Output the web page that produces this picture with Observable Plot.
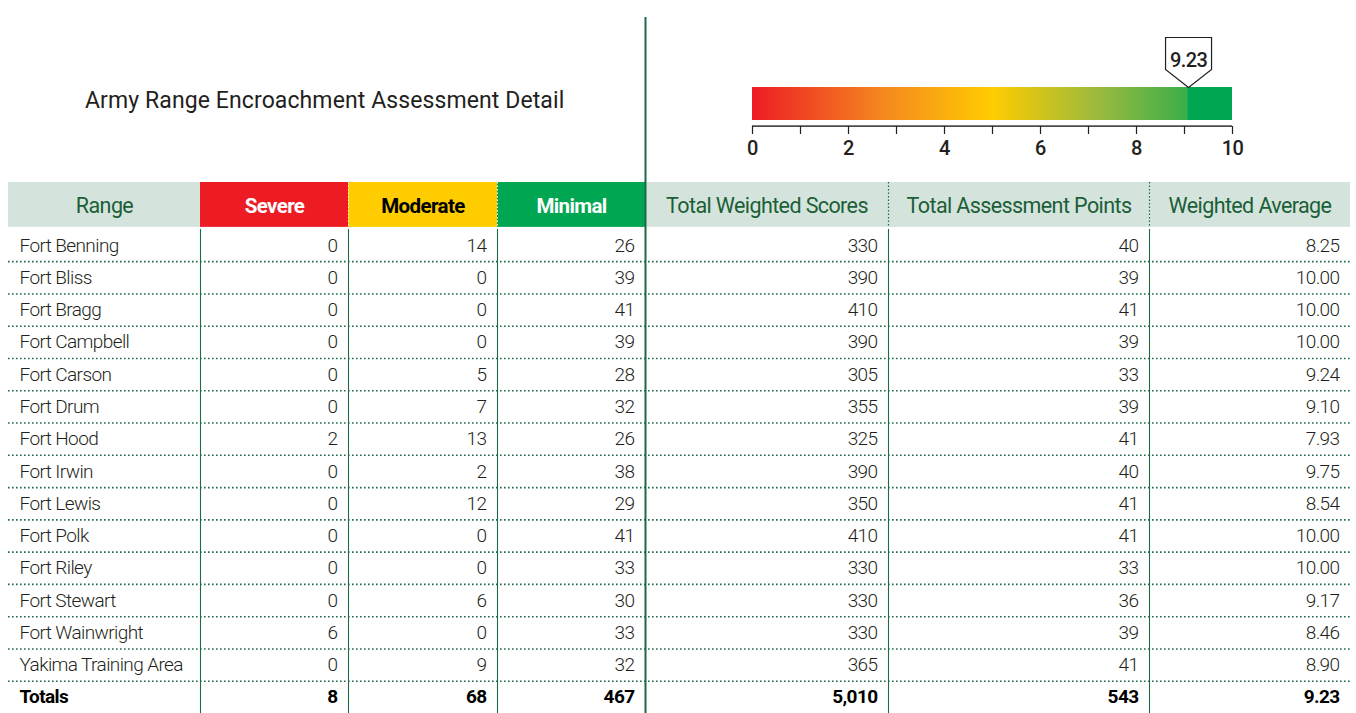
<!DOCTYPE html>
<html><head><meta charset="utf-8">
<script src="https://cdn.jsdelivr.net/npm/d3@7"></script>
<script src="https://cdn.jsdelivr.net/npm/@observablehq/plot@0.6"></script>
<style>
body{margin:0;background:#fff;}
#wrap{position:relative;width:1356px;height:713px;overflow:hidden;background:#fff;}
#wrap > svg{position:absolute;top:0;}
#wrap svg text{letter-spacing:-0.6px;}
#title{position:absolute;left:85px;top:87px;font:23px Roboto,"Liberation Sans",Arial,sans-serif;letter-spacing:0.1px;color:#231f20;white-space:nowrap;}
</style></head><body>
<div id="wrap"></div>
<script>
// ---------- data ----------
const ranges = ["Fort Benning","Fort Bliss","Fort Bragg","Fort Campbell","Fort Carson","Fort Drum","Fort Hood","Fort Irwin","Fort Lewis","Fort Polk","Fort Riley","Fort Stewart","Fort Wainwright","Yakima Training Area"];
const severe = [0,0,0,0,0,0,2,0,0,0,0,0,6,0];
const moderate = [14,0,0,0,5,7,13,2,12,0,0,6,0,9];
const minimal = [26,39,41,39,28,32,26,38,29,41,33,30,33,32];
const weightedScores = [330,390,410,390,305,355,325,390,350,410,330,330,330,365];
const assessmentPoints = [40,39,41,39,33,39,41,40,41,41,33,36,39,41];
const weightedAverage = [8.25,10.00,10.00,10.00,9.24,9.10,7.93,9.75,8.54,10.00,10.00,9.17,8.46,8.90];
const totals = ["Totals", 8, 68, 467, 5010, 543, 9.23];
const columns = ["Range","Severe","Moderate","Minimal","Total Weighted Scores","Total Assessment Points","Weighted Average"];
const scaleTicks = [0,1,2,3,4,5,6,7,8,9,10];
const overallScore = [9.23];

// ---------- layout / style ----------
const FONT = 'Roboto,"Liberation Sans",sans-serif';
const colWidths = [192,148,149,148,243,261,201];
const edges = Array.from(d3.cumsum([0, ...colWidths]));
const headerFill = ["#d4e4dc","#ed1c24","#ffcc00","#00a651","#d4e4dc","#d4e4dc","#d4e4dc"];
const headerInk = ["#1b5e37","#ffffff","#000000","#ffffff","#1b5e37","#1b5e37","#1b5e37"];
const headerBold = [false,true,true,true,false,false,false];
const LINE = "#1d6b44";
const INK = "#231f20";

const fmtInt = d3.format(",");
const fmtAvg = d3.format(".2f");
const fmtCol = [String, fmtInt, fmtInt, fmtInt, fmtInt, fmtInt, fmtAvg];

const bodyRows = ranges.map((r, i) => [r, severe[i], moderate[i], minimal[i], weightedScores[i], assessmentPoints[i], weightedAverage[i]]);
const cells = [];
bodyRows.forEach((row, i) => row.forEach((v, j) => cells.push({row: i + 1, col: j, text: fmtCol[j](v), bold: false})));
totals.forEach((v, j) => cells.push({row: bodyRows.length + 1, col: j, text: fmtCol[j](v), bold: true}));
const nBands = bodyRows.length + 2;

const header = columns.map((c, j) => ({col: j, text: c, fill: headerFill[j], ink: headerInk[j], bold: headerBold[j]}));

const wrap = document.getElementById("wrap");

// ---------- table ----------
const table = Plot.plot({
  width: 1356, height: 713,
  marginLeft: 8, marginRight: 6, marginTop: 196.6, marginBottom: 0,
  x: {type: "linear", domain: [0, edges[edges.length - 1]], axis: null},
  y: {type: "linear", domain: [0, nBands], reverse: true, axis: null},
  color: {type: "identity"},
  style: {fontFamily: FONT, background: "transparent", overflow: "visible"},
  marks: [
    Plot.rect(header, {x1: d => edges[d.col], x2: d => edges[d.col + 1], y1: 0, y2: 1, insetTop: -14.6, insetBottom: 2, fill: d => d.fill}),
    Plot.ruleX([edges[2], edges[3]], {x: d => d, y1: 0, y2: 1, insetTop: -14.6, insetBottom: 2, stroke: "#ffffff", strokeWidth: 1, strokeDasharray: "1.5 2"}),
    Plot.ruleX([edges[5], edges[6]], {x: d => d, y1: 0, y2: 1, insetTop: -14.6, insetBottom: 2, stroke: LINE, strokeWidth: 1.2, strokeDasharray: "1.5 2"}),
    Plot.text(header.filter(d => !d.bold), {x: d => (edges[d.col] + edges[d.col + 1]) / 2, y: 0.5, dy: -7, text: "text", fill: d => d.ink, fontSize: 21.5}),
    Plot.text(header.filter(d => d.bold), {x: d => (edges[d.col] + edges[d.col + 1]) / 2, y: 0.5, dy: -7, text: "text", fill: d => d.ink, fontSize: 20.5, fontWeight: "bold"}),
    Plot.ruleY(d3.range(2, nBands), {y: d => d, stroke: LINE, strokeWidth: 1.6, strokeDasharray: "1.6 2.4"}),
    Plot.ruleX([edges[1], edges[2], edges[3], edges[5], edges[6]], {x: d => d, y1: 1, y2: nBands, stroke: LINE, strokeWidth: 1.1}),
    Plot.ruleX([edges[4]], {x: d => d, y1: 0, y2: nBands, insetTop: -179.6, stroke: LINE, strokeWidth: 2}),
    Plot.text(cells.filter(d => d.col === 0 && !d.bold), {x: d => edges[0], y: d => d.row + 0.5, dx: 11, text: "text", textAnchor: "start", fill: INK, fontSize: 19, fontWeight: 300}),
    Plot.text(cells.filter(d => d.col > 0 && !d.bold), {x: d => edges[d.col + 1], y: d => d.row + 0.5, dx: -11, text: "text", textAnchor: "end", fill: INK, fontSize: 19, fontWeight: 300}),
    Plot.text(cells.filter(d => d.col === 0 && d.bold), {x: d => edges[0], y: d => d.row + 0.5, dx: 11, text: "text", textAnchor: "start", fill: "#000", fontSize: 19, fontWeight: "bold"}),
    Plot.text(cells.filter(d => d.col > 0 && d.bold), {x: d => edges[d.col + 1], y: d => d.row + 0.5, dx: -11, text: "text", textAnchor: "end", fill: "#000", fontSize: 19, fontWeight: "bold"})
  ]
});
table.style.left = "0px";
wrap.appendChild(table);

// ---------- gradient gauge ----------
const pointer = {
  draw(ctx) {
    ctx.moveTo(0, 0);
    ctx.lineTo(-23, -18);
    ctx.lineTo(-23, -50);
    ctx.lineTo(23, -50);
    ctx.lineTo(23, -18);
    ctx.closePath();
  }
};
const gradientDefs = () => {
  const ns = "http://www.w3.org/2000/svg";
  const defs = document.createElementNS(ns, "defs");
  const lg = document.createElementNS(ns, "linearGradient");
  lg.setAttribute("id", "bar-gradient");
  lg.setAttribute("x1", "0"); lg.setAttribute("x2", "1"); lg.setAttribute("y1", "0"); lg.setAttribute("y2", "0");
  [[0, "#ed1c24"], [0.28, "#f58a1f"], [0.5, "#ffcc00"], [0.72, "#9cba3e"], [0.906, "#3aae4a"], [0.909, "#00a651"], [1, "#00a651"]].forEach(([o, c]) => {
    const s = document.createElementNS(ns, "stop");
    s.setAttribute("offset", o); s.setAttribute("stop-color", c);
    lg.appendChild(s);
  });
  defs.appendChild(lg);
  return defs;
};
const gauge = Plot.plot({
  width: 600, height: 170,
  marginLeft: 52, marginRight: 68, marginTop: 87, marginBottom: 44,
  x: {domain: [0, 10]},
  style: {fontFamily: FONT, background: "transparent", overflow: "visible"},
  marks: [
    gradientDefs,
    Plot.rect([0], {x1: scaleTicks[0], x2: scaleTicks[scaleTicks.length - 1], insetBottom: 6, fill: "url(#bar-gradient)"}),
    Plot.rect([0], {x1: scaleTicks[0], x2: scaleTicks[scaleTicks.length - 1], insetTop: 38.4, insetBottom: -0.8, fill: INK}),
    Plot.axisX({ticks: scaleTicks, tickSize: 8, tickPadding: 6, tickFormat: d => d % 2 === 0 ? d : "", fontSize: 20, fontWeight: 500, stroke: INK, strokeWidth: 1.2, fill: INK, label: null}),
    Plot.dot(overallScore, {x: d => d, dx: -7, frameAnchor: "top", symbol: pointer, r: 10, fill: "#fff", stroke: INK, strokeWidth: 1.2}),
    Plot.text(overallScore, {x: d => d, dx: -7, frameAnchor: "top", dy: -35, text: d => fmtAvg(d), fontSize: 20, fontWeight: 500, fill: INK})
  ]
});
gauge.style.left = "700px";
wrap.appendChild(gauge);

const title = document.createElement("div");
title.id = "title";
title.textContent = "Army Range Encroachment Assessment Detail";
wrap.appendChild(title);
</script>
</body></html>
